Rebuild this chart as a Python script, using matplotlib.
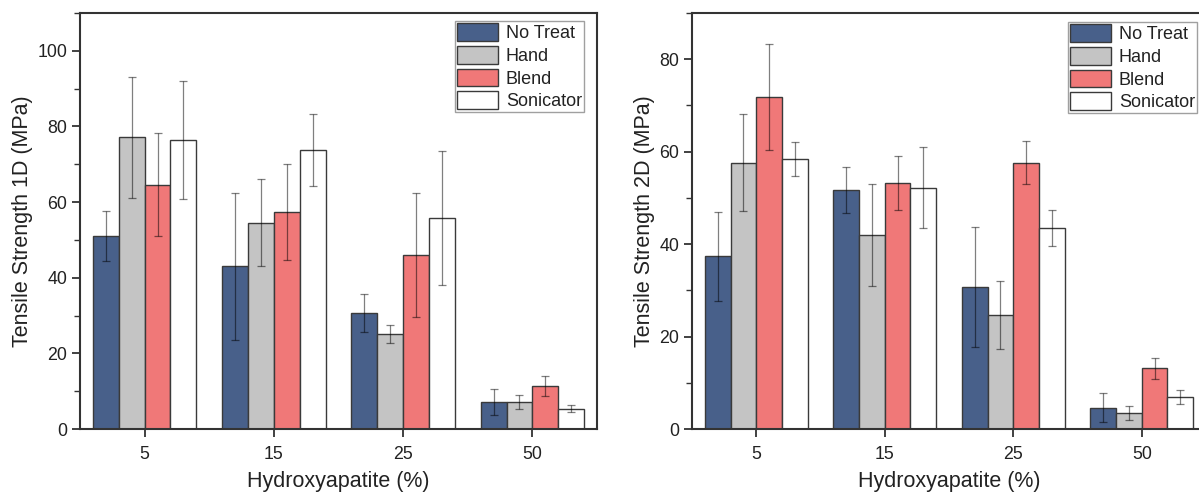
import matplotlib
matplotlib.use("Agg")
import matplotlib.pyplot as plt
from matplotlib.ticker import MultipleLocator
import numpy as np

plt.rcParams['font.family'] = ['Liberation Sans', 'DejaVu Sans']

# Hydroxyapatite content groups
categories = ["5", "15", "25", "50"]
treatments = ["No Treat", "Hand", "Blend", "Sonicator"]

# Tensile strength 1D (MPa): mean and standard deviation per treatment
ts1d_mean = {
    "No Treat":  [51.1, 43.0, 30.7, 7.1],
    "Hand":      [77.1, 54.6, 25.2, 7.2],
    "Blend":     [64.6, 57.4, 46.1, 11.3],
    "Sonicator": [76.5, 73.8, 55.8, 5.4],
}
ts1d_err = {
    "No Treat":  [6.6, 19.5, 5.0, 3.4],
    "Hand":      [16.0, 11.6, 2.4, 1.8],
    "Blend":     [13.6, 12.7, 16.4, 2.7],
    "Sonicator": [15.6, 9.6, 17.6, 0.9],
}

# Tensile strength 2D (MPa): mean and standard deviation per treatment
ts2d_mean = {
    "No Treat":  [37.4, 51.7, 30.7, 4.6],
    "Hand":      [57.6, 42.0, 24.6, 3.5],
    "Blend":     [71.8, 53.2, 57.6, 13.1],
    "Sonicator": [58.4, 52.2, 43.4, 7.0],
}
ts2d_err = {
    "No Treat":  [9.6, 4.9, 13.0, 3.1],
    "Hand":      [10.5, 11.0, 7.4, 1.45],
    "Blend":     [11.4, 5.9, 4.7, 2.2],
    "Sonicator": [3.6, 8.8, 3.9, 1.5],
}

colors = {
    "No Treat": "#48608A",
    "Hand": "#C4C4C4",
    "Blend": "#F07878",
    "Sonicator": "#FFFFFF",
}

W, H = 1199, 493
fig = plt.figure(figsize=(W / 100, H / 100), dpi=100)

TEXT = "#222222"
SPINE = "#333333"


def draw_panel(ax, means, errs, ylabel, ymax, leg_anchor):
    x = np.arange(len(categories))
    width = 0.2
    offsets = (np.arange(len(treatments)) - 1.5) * width
    for off, t in zip(offsets, treatments):
        ax.bar(x + off, means[t], width, color=colors[t],
               edgecolor="#3a3a3a", linewidth=1.0, label=t, zorder=2)
        ax.errorbar(x + off, means[t], yerr=errs[t], fmt="none",
                    ecolor=(0, 0, 0, 0.5), elinewidth=0.9, capsize=3,
                    capthick=0.9, zorder=3)
    ax.set_xlim(-0.5, len(categories) - 0.5)
    ax.set_ylim(0, ymax)
    ax.set_xticks(x)
    ax.set_xticklabels(categories)
    ax.yaxis.set_major_locator(MultipleLocator(20))
    ax.yaxis.set_minor_locator(MultipleLocator(10))
    ax.tick_params(axis="both", which="major", direction="out", length=6,
                   width=1.3, color=SPINE, labelsize=12.8, labelcolor=TEXT)
    ax.tick_params(axis="y", which="major", pad=3)
    ax.tick_params(axis="x", which="major", pad=6)
    ax.tick_params(axis="y", which="minor", direction="out", length=4,
                   width=1.0, color=SPINE)
    for s in ax.spines.values():
        s.set_color(SPINE)
        s.set_linewidth(1.5)
    ax.set_xlabel("Hydroxyapatite (%)", fontsize=15.5, color=TEXT, labelpad=6)
    ax.set_ylabel(ylabel, fontsize=15.5, color=TEXT, labelpad=3.5)
    leg = ax.legend(loc="upper right", bbox_to_anchor=leg_anchor,
                    fontsize=13, frameon=True, fancybox=False,
                    handlelength=2.3, handleheight=1.15, labelspacing=0.2,
                    handletextpad=0.4, borderpad=0.12, borderaxespad=0.0)
    leg.get_frame().set_edgecolor("#888888")
    leg.get_frame().set_linewidth(1.0)
    for txt in leg.get_texts():
        txt.set_color(TEXT)


bottom = (H - 429) / H
height = 416 / H

ax1 = fig.add_axes([80 / W, bottom, 517 / W, height])
draw_panel(ax1, ts1d_mean, ts1d_err, "Tensile Strength 1D (MPa)", 110,
           (1 - 13 / 517, 1 - 8 / 416))

ax2 = fig.add_axes([692 / W, bottom, 514 / W, height])
draw_panel(ax2, ts2d_mean, ts2d_err, "Tensile Strength 2D (MPa)", 90,
           (1 - 9 / 514, 1 - 9 / 416))

fig.savefig("out.png", dpi=100)
